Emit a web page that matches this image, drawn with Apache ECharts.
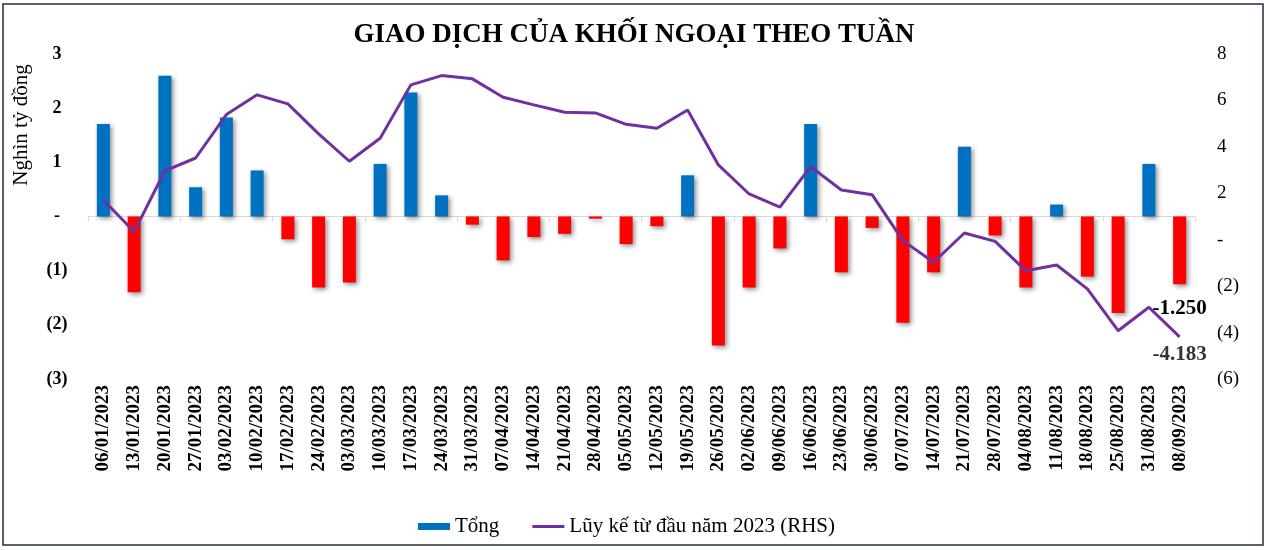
<!DOCTYPE html>
<html>
<head>
<meta charset="utf-8">
<script src="https://cdn.jsdelivr.net/npm/echarts@6/dist/echarts.min.js"></script>
<style>html,body{margin:0;padding:0;background:#fff}#c{width:1268px;height:550px}</style>
</head>
<body>
<div id="c"></div>
<script>
const categories = ['06/01/2023','13/01/2023','20/01/2023','27/01/2023','03/02/2023','10/02/2023','17/02/2023','24/02/2023','03/03/2023','10/03/2023','17/03/2023','24/03/2023','31/03/2023','07/04/2023','14/04/2023','21/04/2023','28/04/2023','05/05/2023','12/05/2023','19/05/2023','26/05/2023','02/06/2023','09/06/2023','16/06/2023','23/06/2023','30/06/2023','07/07/2023','14/07/2023','21/07/2023','28/07/2023','04/08/2023','11/08/2023','18/08/2023','25/08/2023','31/08/2023','08/09/2023'];
const weeklyNet = [1.71,-1.40,2.60,0.54,1.83,0.85,-0.42,-1.31,-1.22,0.97,2.29,0.39,-0.15,-0.81,-0.38,-0.32,-0.04,-0.51,-0.18,0.76,-2.38,-1.31,-0.59,1.71,-1.03,-0.21,-1.96,-1.03,1.29,-0.35,-1.31,0.22,-1.11,-1.78,0.97,-1.25];
const cumulative = [1.71,0.34,2.97,3.52,5.39,6.24,5.85,4.56,3.38,4.37,6.67,7.07,6.93,6.14,5.81,5.49,5.46,4.97,4.80,5.59,3.22,1.97,1.40,3.15,2.14,1.94,-0.04,-0.97,0.29,-0.07,-1.34,-1.09,-2.12,-3.92,-2.91,-4.183];
const seriesNames = ['Tổng','Lũy kế từ đầu năm 2023 (RHS)'];
const titleText = 'GIAO DỊCH CỦA KHỐI NGOẠI THEO TUẦN';
const yAxisName = 'Nghìn tỷ đồng';

const FONT = '"Liberation Serif","Times New Roman",serif';
const BLUE = '#0070C0', RED = '#FF0000', PURPLE = '#7030A0';
const last = categories.length - 1;
const fmtTick = v => v === 0 ? '-' : (v < 0 ? '(' + (-v) + ')' : String(v));
const lblStyle = {fontFamily: FONT, fontWeight: 'bold', fontSize: 21, color: '#000'};

const barData = weeklyNet.map((v, i) => i === last ? {
  value: v,
  label: Object.assign({show: true, position: 'bottom', distance: 14, formatter: p => p.value.toFixed(3)}, lblStyle)
} : v);
const endLabelData = cumulative.map((v, i) => i === last ? {
  value: v,
  label: Object.assign({show: true, position: 'bottom', distance: 7, formatter: p => p.value.toFixed(3)}, lblStyle)
} : '-');

const chart = echarts.init(document.getElementById('c'));
chart.setOption({
  animation: false,
  backgroundColor: '#fff',
  title: {
    text: titleText, left: 'center', top: 17,
    textStyle: {fontFamily: FONT, fontWeight: 'bold', fontSize: 27, color: '#000'}
  },
  legend: {
    left: 413, top: 511, itemWidth: 32, itemHeight: 7, itemGap: 33,
    textStyle: {fontFamily: FONT, fontSize: 21, color: '#000'},
    data: [
      {name: seriesNames[0], icon: 'rect', itemStyle: {color: BLUE}},
      {name: seriesNames[1], icon: 'path://M0,0H32V3H0Z', itemStyle: {color: PURPLE}}
    ]
  },
  grid: {left: 88, right: 73, top: 54, bottom: 171, containLabel: false},
  xAxis: [
    {
      type: 'category', data: categories, position: 'bottom',
      axisLine: {show: false, onZero: false}, axisTick: {show: false},
      axisLabel: {rotate: 90, margin: 6, interval: 0, fontFamily: FONT, fontWeight: 'bold', fontSize: 19, color: '#000'},
      splitLine: {show: false}
    },
    {
      type: 'category', data: categories, position: 'bottom',
      axisLine: {show: true, onZero: true, onZeroAxisIndex: 0, lineStyle: {color: '#d9d9d9', width: 1}},
      axisTick: {show: true, length: 5, lineStyle: {color: '#d9d9d9'}},
      axisLabel: {show: false}, splitLine: {show: false}
    }
  ],
  yAxis: [
    {
      type: 'value', min: -3, max: 3, interval: 1, position: 'left',
      axisLine: {show: false}, axisTick: {show: false}, splitLine: {show: false},
      axisLabel: {formatter: fmtTick, margin: 31, align: 'center', fontFamily: FONT, fontWeight: 'bold', fontSize: 18, color: '#000'}
    },
    {
      type: 'value', min: -6, max: 8, interval: 2, position: 'right',
      axisLine: {show: false}, axisTick: {show: false}, splitLine: {show: false},
      axisLabel: {formatter: fmtTick, margin: 22, fontFamily: FONT, fontSize: 19, color: '#000'}
    }
  ],
  series: [
    {
      name: seriesNames[0], type: 'bar', xAxisIndex: 0, yAxisIndex: 0, barWidth: 13,
      data: barData,
      itemStyle: {
        color: p => p.value < 0 ? RED : BLUE,
        shadowColor: 'rgba(0,0,0,0.45)', shadowBlur: 5, shadowOffsetX: 2, shadowOffsetY: 2
      }
    },
    {
      name: seriesNames[1], type: 'line', xAxisIndex: 0, yAxisIndex: 1, symbol: 'none', z: 5,
      data: cumulative,
      color: PURPLE,
      lineStyle: {color: PURPLE, width: 3}
    },
    {
      type: 'scatter', xAxisIndex: 0, yAxisIndex: 1, symbolSize: 0, z: 6, silent: true,
      data: endLabelData
    }
  ],
  graphic: [
    {type: 'rect', shape: {x: 3, y: 4, width: 1260, height: 541}, style: {fill: 'none', stroke: '#1f3040', lineWidth: 1.5}, silent: true},
    {type: 'text', x: 21, y: 125, rotation: Math.PI / 2,
      style: {text: yAxisName, fontFamily: FONT, fontSize: 21, fill: '#000', align: 'center', verticalAlign: 'middle'}}
  ]
});
</script>
</body>
</html>
